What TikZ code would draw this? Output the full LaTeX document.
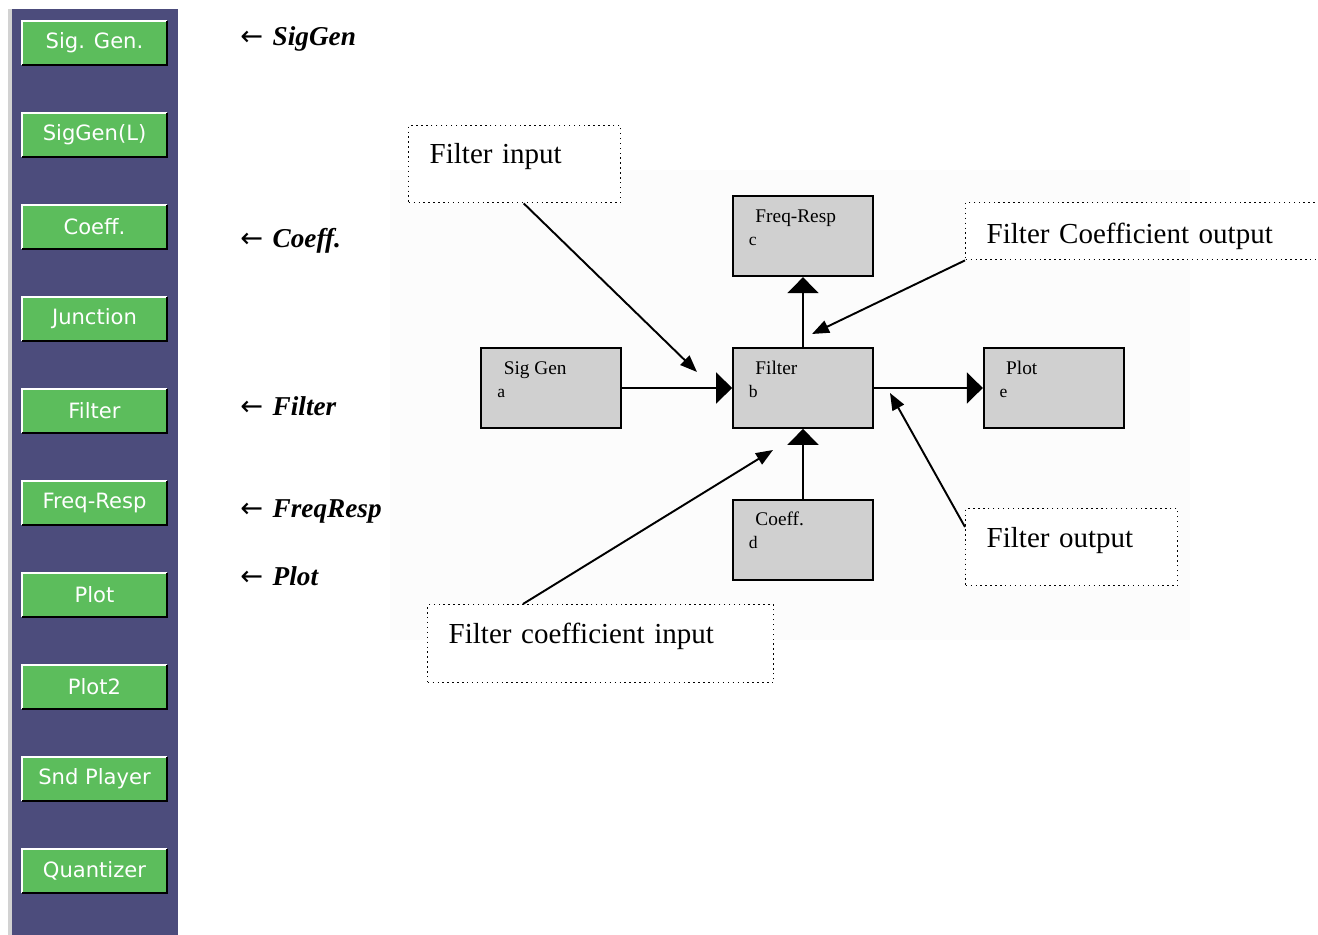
\documentclass[tikz,border=0pt]{standalone}
\usepackage{fontspec}
\setmainfont{Liberation Serif}
\newfontfamily\btnfont{DejaVu Sans}
\usetikzlibrary{positioning, arrows.meta}

\definecolor{panelpurple}{RGB}{76,76,124}
\definecolor{btngreen}{RGB}{92,189,92}
\definecolor{blockgray}{RGB}{208,208,208}
\definecolor{diagbg}{RGB}{252,252,252}

\tikzset{
  button/.style={fill=btngreen, minimum width=2.9cm, minimum height=0.88cm, inner sep=0pt,
    text=white, font=\btnfont\fontsize{12}{14}\selectfont},
  block/.style={draw, line width=1pt, fill=blockgray, minimum width=2.8cm, minimum height=1.6cm, inner sep=0pt},
  blockname/.style={anchor=base west, inner sep=0pt, font=\fontsize{11}{13}\selectfont},
  blockid/.style={anchor=base west, inner sep=0pt, font=\fontsize{10}{12}\selectfont},
  flow/.style={line width=1pt, -{Triangle[length=0.32cm, width=0.62cm]}},
  callout/.style={draw, dotted, line width=0.8pt, fill=white, anchor=north west, inner xsep=0.42cm,
    inner ysep=0pt, align=left, font=\fontsize{16.5}{19}\selectfont},
  callarrow/.style={line width=1.1pt, -{Triangle[length=0.34cm, width=0.26cm]}},
  sidelabel/.style={anchor=base west, inner sep=0pt, font=\fontsize{15.5}{18}\selectfont}
}
\newcommand{\lftarrow}{{\btnfont ←}\hspace{0.35em}}

\begin{document}
\begin{tikzpicture}[x=0.02cm, y=-0.02cm]
    \useasboundingbox (0,0) rectangle (1318,935);

    % tool panel on the left
    \fill[gray!35] (8,9) rectangle (12,935);
    \fill[panelpurple] (12,9) rectangle (178,935);
    \foreach \lbl [count=\i from 0] in {Sig. Gen., SigGen(L), Coeff., Junction, Filter, Freq-Resp, Plot, Plot2, Snd Player, Quantizer} {
        \node[button] (btn\i) at (94.5, 43+92*\i) {\lbl};
        \draw[white, line width=1pt] (btn\i.south west) -- (btn\i.north west) -- (btn\i.north east); % highlight
        \draw[black, line width=1.3pt] (btn\i.north east) -- (btn\i.south east) -- (btn\i.south west); % shadow
    }

    % pointers to the buttons used
    \node[sidelabel] (tagSig) at (240,46) {\lftarrow\textbf{\textit{SigGen}}};
    \node[sidelabel] (tagCoef) at (240,248) {\lftarrow\textbf{\textit{Coeff.}}};
    \node[sidelabel] (tagFilt) at (240,416) {\lftarrow\textbf{\textit{Filter}}};
    \node[sidelabel] (tagFreq) at (240,518) {\lftarrow\textbf{\textit{FreqResp}}};
    \node[sidelabel] (tagPlot) at (240,585) {\lftarrow\textbf{\textit{Plot}}};

    % block diagram
    \fill[diagbg] (390,170) rectangle (1190,640);
    \node[block] (filt) at (803,388) {};
    \node[block, left=2.2cm of filt] (sig) {};
    \node[block, right=2.18cm of filt] (plot) {};
    \node[block, above=1.4cm of filt] (freq) {};
    \node[block, below=1.4cm of filt] (coef) {};
    \foreach \blk/\name/\id in {sig/Sig Gen/a, filt/Filter/b, freq/Freq-Resp/c, coef/Coeff./d, plot/Plot/e} {
        \node[blockname] (\blk-name) at ([xshift=0.46cm, yshift=-0.54cm]\blk.north west) {\name};
        \node[blockid] (\blk-id) at ([xshift=0.33cm, yshift=-1.0cm]\blk.north west) {\id};
    }

    \draw[flow] (sig.east) -- (filt.west);
    \draw[flow] (filt.east) -- (plot.west);
    \draw[flow] (filt.north) -- (freq.south);
    \draw[flow] (coef.north) -- (filt.south);

    % callouts
    \node[callout, text width=3.4cm, text height=0.76cm, text depth=0.78cm] (fin) at (408,125) {Filter input};
    \node[callout, text width=6.46cm, text height=0.82cm, text depth=0.32cm] (fcout) at (965,202) {Filter Coefficient output};
    \node[callout, text width=3.4cm, text height=0.78cm, text depth=0.76cm] (fout) at (965,508) {Filter output};
    \node[callout, text width=6.08cm, text height=0.78cm, text depth=0.78cm] (fcin) at (427,604) {Filter coefficient input};

    \coordinate (finTip) at (697,372);
    \coordinate (fcoutTip) at (812,334);
    \coordinate (foutTip) at (890,393);
    \coordinate (fcinTip) at (773,450);
    \draw[callarrow] ([xshift=0.18cm]fin.south) -- (finTip);
    \draw[callarrow] (fcout.south west) -- (fcoutTip);
    \draw[callarrow] ([yshift=-0.38cm]fout.north west) -- (foutTip);
    \draw[callarrow] ([xshift=1.92cm]fcin.north west) -- (fcinTip);
\end{tikzpicture}
\end{document}
